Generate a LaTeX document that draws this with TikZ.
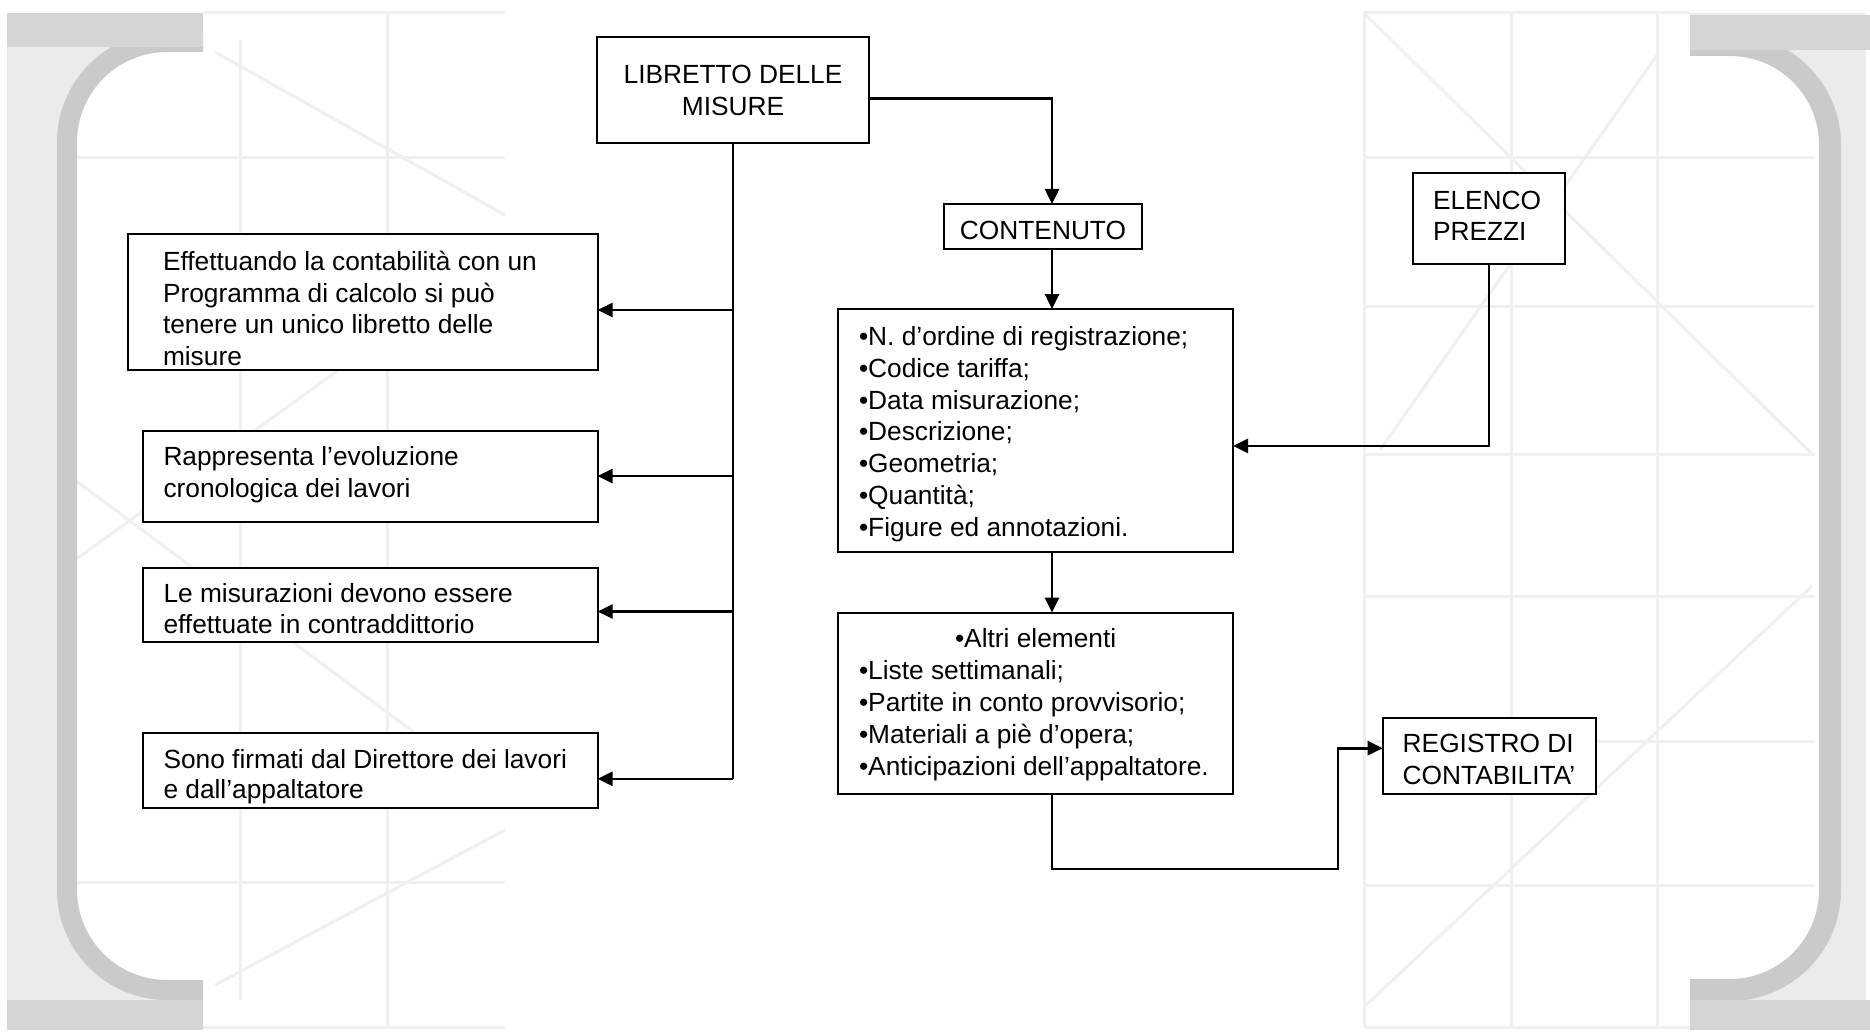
\documentclass[tikz,border=0pt]{standalone}
\usepackage{fontspec}
\setmainfont{Liberation Sans}
\usetikzlibrary{arrows.meta,calc}
\definecolor{bgl}{HTML}{EBEBEB}
\definecolor{bgd}{HTML}{D5D5D5}
\definecolor{bgs}{HTML}{CACACA}
\definecolor{gridc}{HTML}{F0F0F0}
% W H A(first baseline) P(left pad) BS text
\newcommand\bxl[6]{\parbox[c][#2pt][t]{#1pt}{\fontsize{26.3pt}{#5pt}\selectfont\raggedright\leftskip=#4pt\relax\rule{0pt}{#3pt}\ignorespaces#6\par}}
% W H A BS text (centred)
\newcommand\bxc[5]{\parbox[c][#2pt][t]{#1pt}{\fontsize{26.3pt}{#4pt}\selectfont\centering\rule{0pt}{#3pt}\ignorespaces#5\par}}
\tikzset{
  boxn/.style={draw, line width=2pt, fill=white, inner sep=0pt, outer sep=0pt, anchor=north west},
  ln/.style={line width=2.6pt, line join=miter},
  arr/.style={ln, -{Triangle[length=15pt,width=14pt]}},
  gridl/.style={draw=gridc, line width=3pt},
}
\begin{document}
\begin{tikzpicture}[x=1pt,y=-1pt]
\useasboundingbox (0,0) rectangle (1870,1032);
\fill[white] (0,0) rectangle (1870,1032);
% ---------- faded background: left ----------
\fill[bgl] (7,13) rectangle (203,1030);
\begin{scope}
\clip (0,0) rectangle (203,1032);
\fill[white, rounded corners=100] (67,42) rectangle (450,990);
\end{scope}
\draw[gridl] (203,13) -- (505,13);
\draw[gridl] (203,1027) -- (505,1027);
\draw[gridl] (240,40) -- (240,1000);
\draw[gridl] (387,13) -- (387,1027);
\draw[gridl] (75,158) -- (505,158);
\draw[gridl] (75,882) -- (505,882);
\draw[gridl] (215,52) -- (505,215);
\draw[gridl] (75,560) -- (505,250);
\draw[gridl] (75,480) -- (505,800);
\draw[gridl] (215,985) -- (505,830);
\draw[bgs, line width=20pt, rounded corners=100] (203,42) -- (67,42) -- (67,990) -- (203,990);
\fill[bgd] (7,13) rectangle (203,47);
\fill[bgd] (7,1000) rectangle (203,1030);
% ---------- faded background: right ----------
\fill[bgl] (1690,13) rectangle (1866,1030);
\begin{scope}
\clip (1690,0) rectangle (1870,1032);
\fill[white, rounded corners=100] (1400,45) rectangle (1830,990);
\end{scope}
\draw[gridl] (1364,13) -- (1690,13);
\draw[gridl] (1364,1027) -- (1690,1027);
\draw[gridl] (1364,13) -- (1364,1027);
\draw[gridl] (1511,13) -- (1511,1027);
\draw[gridl] (1657,13) -- (1657,1027);
\foreach \yy in {158,306,454,596,741,885}{\draw[gridl] (1364,\yy) -- (1815,\yy);}
\draw[gridl] (1364,13) -- (1812,454);
\draw[gridl] (1364,1007) -- (1812,586);
\draw[gridl] (1380,450) -- (1657,55);
\draw[bgs, line width=22pt, rounded corners=100] (1690,45) -- (1830,45) -- (1830,990) -- (1690,990);
\fill[bgd] (1690,15) rectangle (1870,50);
\fill[bgd] (1690,1000) rectangle (1870,1030);
% ---------- boxes ----------
\node[boxn] (lib) at (597,37) {\bxc{272}{106}{46.3}{32.7}{LIBRETTO DELLE\\ MISURE}};
\node[boxn] (cont) at (944,204) {\bxc{198}{45.3}{36}{31.7}{CONTENUTO}};
\node[boxn] (elenco) at (1413,173.3) {\bxl{152}{91}{36}{20}{31.4}{ELENCO\\ PREZZI}};
\node[boxn] (l1) at (838,309) {\bxl{395}{243.2}{36.5}{21}{31.8}{•N. d’ordine di registrazione;\\ •Codice tariffa;\\ •Data misurazione;\\ •Descrizione;\\ •Geometria;\\ •Quantità;\\ •Figure ed annotazioni.}};
\node[boxn] (l2) at (838,612.6) {\bxl{395}{181.4}{35.2}{21}{32}{\hspace*{96pt}•Altri elementi\\ •Liste settimanali;\\ •Partite in conto provvisorio;\\ •Materiali a piè d’opera;\\ •Anticipazioni dell’appaltatore.}};
\node[boxn] (reg) at (1382.7,717.7) {\bxl{213}{76.3}{35}{20}{31.3}{REGISTRO DI\\ CONTABILITA’}};
\node[boxn] (b1) at (128,234.5) {\bxl{469.6}{135.5}{36}{35}{31.7}{Effettuando la contabilità con un\\ Programma di calcolo si può\\ tenere un unico libretto delle\\ misure}};
\node[boxn] (b2) at (143,430.5) {\bxl{454.6}{91.1}{34.5}{20.5}{32.5}{Rappresenta l’evoluzione\\ cronologica dei lavori}};
\node[boxn] (b3) at (143,567.5) {\bxl{454.6}{74.6}{34.5}{20.5}{31}{Le misurazioni devono essere\\ effettuate in contraddittorio}};
\node[boxn] (b4) at (143,732.8) {\bxl{454.6}{75.4}{35.2}{20.5}{30.6}{Sono firmati dal Direttore dei lavori\\ e dall’appaltatore}};
% ---------- connectors ----------
\coordinate (cx) at (1052,0);
\coordinate (bend) at (1338,869);
\draw[arr] ($(lib.north east)!0.578!(lib.south east)$) -| (cx |- cont.north);
\draw[arr] (cx |- cont.south) -- (cx |- l1.north);
\draw[arr] (cx |- l1.south) -- (cx |- l2.north);
\draw[arr] (cx |- l2.south) |- (bend) |- ($(reg.north west)!0.4!(reg.south west)$);
\draw[arr] (elenco.south) |- ($(l1.north east)!0.563!(l1.south east)$);
\coordinate (p1) at ($(b1.north east)!0.557!(b1.south east)$);
\coordinate (p2) at ($(b2.north east)!0.5!(b2.south east)$);
\coordinate (p3) at ($(b3.north east)!0.59!(b3.south east)$);
\coordinate (p4) at ($(b4.north east)!0.61!(b4.south east)$);
\draw[ln] (lib.south) -- (lib.south |- p4);
\draw[arr] (lib.south |- p1) -- (p1);
\draw[arr] (lib.south |- p2) -- (p2);
\draw[arr] (lib.south |- p3) -- (p3);
\draw[arr] (lib.south |- p4) -- (p4);
\end{tikzpicture}
\end{document}
